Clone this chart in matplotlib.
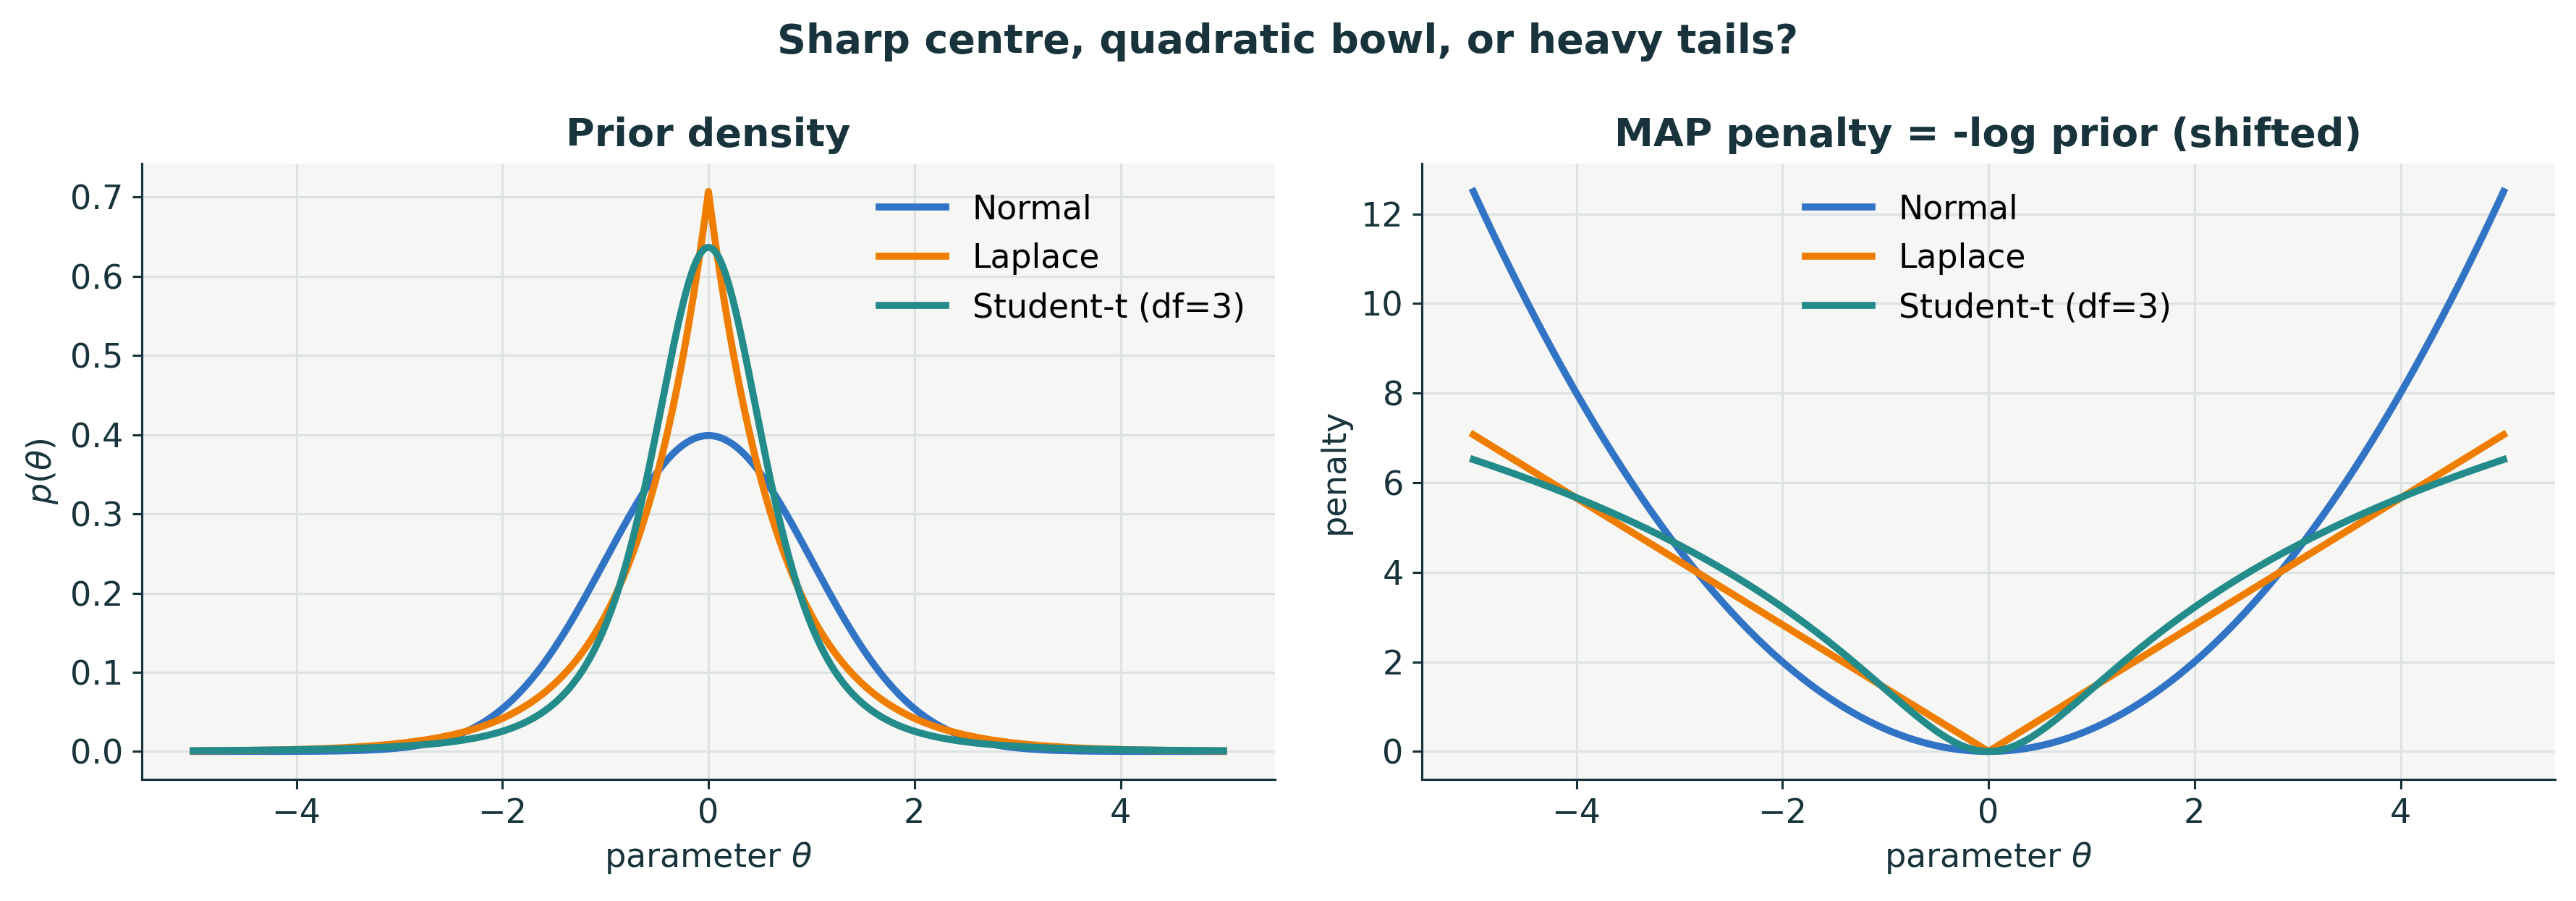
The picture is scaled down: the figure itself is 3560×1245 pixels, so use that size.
import math
import numpy as np
import matplotlib
matplotlib.use("Agg")
import matplotlib.pyplot as plt

# parameter grid and the three priors (all unit variance)
theta = np.linspace(-5, 5, 1001)
series_names = ["Normal", "Laplace", "Student-t (df=3)"]
series_colors = ["#3173c4", "#ef7d00", "#238b8a"]
normal_sigma = 1.0
laplace_b = 1 / math.sqrt(2)
t_df = 3
t_scale = 1 / math.sqrt(3)

x_ticks = [-4, -2, 0, 2, 4]
density_ticks = [0.0, 0.1, 0.2, 0.3, 0.4, 0.5, 0.6, 0.7]
penalty_ticks = [0, 2, 4, 6, 8, 10, 12]


def normal_pdf(x):
    return np.exp(-0.5 * (x / normal_sigma) ** 2) / (normal_sigma * math.sqrt(2 * math.pi))


def laplace_pdf(x):
    return np.exp(-np.abs(x) / laplace_b) / (2 * laplace_b)


def t_pdf(x):
    c = math.gamma((t_df + 1) / 2) / (math.sqrt(t_df * math.pi) * math.gamma(t_df / 2) * t_scale)
    return c * (1 + (x / t_scale) ** 2 / t_df) ** (-(t_df + 1) / 2)


densities = [normal_pdf(theta), laplace_pdf(theta), t_pdf(theta)]
# penalty = -log p, shifted so the minimum sits at zero
penalties = [-np.log(d) - (-np.log(d)).min() for d in densities]

dark = "#18333b"
plt.rcParams["font.family"] = ["DejaVu Sans"]

fig = plt.figure(figsize=(14.24, 4.98), dpi=250)
ax1 = fig.add_axes([0.05506, 0.13494, 0.4399, 0.68353])
ax2 = fig.add_axes([0.55197, 0.13494, 0.4399, 0.68353])

for ax, ys, title, ylabel, yt, loc in [
    (ax1, densities, "Prior density", r"$p(\theta)$", density_ticks, "upper right"),
    (ax2, penalties, "MAP penalty = -log prior (shifted)", "penalty", penalty_ticks, "upper center"),
]:
    ax.set_facecolor("#f6f6f4")
    for y, name, col in zip(ys, series_names, series_colors):
        ax.plot(theta, y, color=col, lw=2.8, label=name)
    ax.set_xticks(x_ticks)
    ax.set_yticks(yt)
    ax.grid(True, color="#dde3e2", lw=0.9)
    ax.set_axisbelow(True)
    for s in ["top", "right"]:
        ax.spines[s].set_visible(False)
    for s in ["left", "bottom"]:
        ax.spines[s].set_color(dark)
        ax.spines[s].set_linewidth(0.9)
    ax.tick_params(colors=dark, labelsize=13.3, width=0.9, length=3.8)
    ax.set_title(title, fontsize=15.6, fontweight="bold", color=dark, pad=7)
    ax.set_xlabel(r"parameter $\theta$", fontsize=13.3, color=dark)
    ax.set_ylabel(ylabel, fontsize=13.3, color=dark)
    ax.legend(loc=loc, frameon=False, fontsize=13.2, labelcolor="black")

fig.text(0.5, 0.9414, "Sharp centre, quadratic bowl, or heavy tails?", ha="center", va="baseline",
         fontsize=16, fontweight="bold", color=dark)

fig.savefig("out.png", dpi=250)
